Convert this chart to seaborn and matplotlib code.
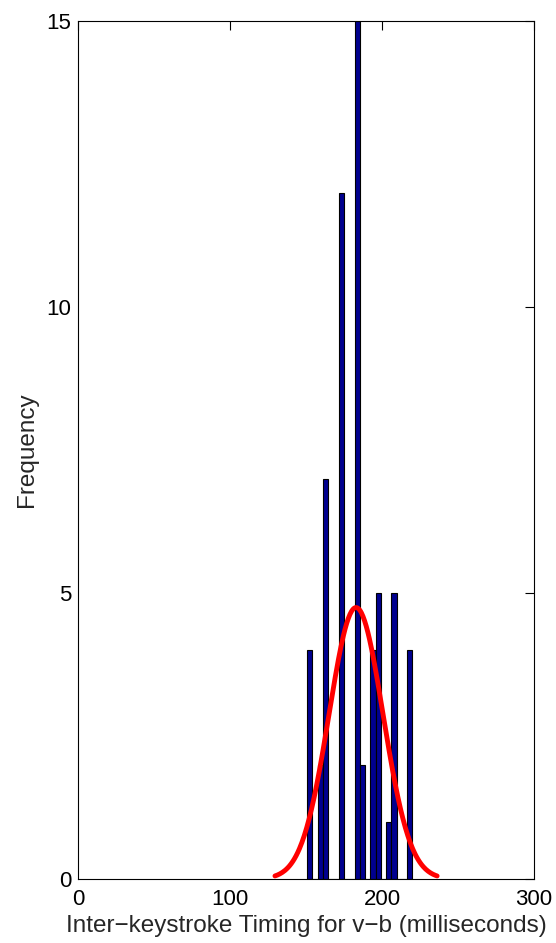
import numpy as np
import pandas as pd
import matplotlib
matplotlib.use('Agg')
import matplotlib.pyplot as plt
import seaborn as sns

sns.set_style('white')
plt.rcParams['font.family'] = ['Liberation Sans', 'DejaVu Sans']

# histogram: 20 equal bins between min and max timing
bin_lo = 150.6
bin_hi = 220.0
counts = [4, 0, 2, 7, 0, 0, 12, 0, 0, 15, 2, 0, 4, 5, 0, 1, 5, 0, 0, 4]
x_ticks = [0, 100, 200, 300]
y_ticks = [0, 5, 10, 15]

edges = np.linspace(bin_lo, bin_hi, len(counts) + 1)
df = pd.DataFrame({'ms': (edges[:-1] + edges[1:]) / 2, 'n': counts})

# normal fit over +-3 sigma, scaled to the counts (like histfit)
n = df['n'].sum()
bw = edges[1] - edges[0]
mu = np.average(df['ms'], weights=df['n'])
sigma = np.sqrt(np.sum(df['n'] * (df['ms'] - mu) ** 2) / (n - 1))
xs = np.linspace(mu - 3 * sigma, mu + 3 * sigma, 200)
ys = n * bw * np.exp(-0.5 * ((xs - mu) / sigma) ** 2) / (sigma * np.sqrt(2 * np.pi))

fig = plt.figure(figsize=(5.56, 9.43), dpi=100)
ax = fig.add_axes([0.141, 0.0679, 0.8194, 0.9099])

sns.histplot(data=df, x='ms', weights='n', bins=len(counts), binrange=(bin_lo, bin_hi),
             color='#00008f', edgecolor='black', linewidth=0.8, alpha=1, ax=ax)
sns.lineplot(x=xs, y=ys, color='red', linewidth=3.5, ax=ax)

ax.set_xlim(0, 300)
ax.set_ylim(0, 15)
ax.set_xticks(x_ticks)
ax.set_yticks(y_ticks)
ax.tick_params(direction='in', length=6.5, width=0.8, top=True, right=True,
               labelsize=16, colors='black')
ax.tick_params(axis='x', pad=7)
ax.tick_params(axis='y', pad=5)
for s in ax.spines.values():
    s.set_color('black')
    s.set_linewidth(0.8)
    s.set_zorder(5)

ax.set_xlabel('Inter\u2212keystroke Timing for v\u2212b (milliseconds)', fontsize=17.5, labelpad=4)
ax.set_ylabel('Frequency', fontsize=17.5, labelpad=6)

fig.savefig('out.png', dpi=100)
